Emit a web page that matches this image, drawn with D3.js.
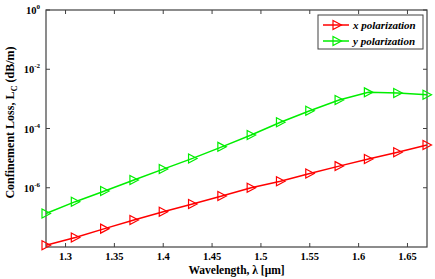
<!DOCTYPE html>
<html>
<head>
<meta charset="utf-8">
<script src="https://cdn.jsdelivr.net/npm/d3@7"></script>
<style>
  body { margin: 0; background: #fff; }
  text { font-family: "Liberation Serif", "Times New Roman", serif; font-weight: bold; }
</style>
</head>
<body>
<script>
// wavelengths (um) and losses (dB/m)
var wavelength = [1.28, 1.31, 1.34, 1.37, 1.40, 1.43, 1.46, 1.49, 1.52, 1.55, 1.58, 1.61, 1.64, 1.67];
var xPolLog = [-7.94, -7.68, -7.38, -7.09, -6.81, -6.55, -6.28, -6.00, -5.78, -5.52, -5.27, -5.03, -4.80, -4.56];
var yPolLog = [-6.87, -6.47, -6.11, -5.74, -5.37, -5.01, -4.62, -4.22, -3.79, -3.40, -3.04, -2.78, -2.80, -2.86];
var seriesNames = ["x polarization", "y polarization"];
var xTicks = [1.3, 1.35, 1.4, 1.45, 1.5, 1.55, 1.6, 1.65];
var yTickExp = [0, -2, -4, -6];

var W = 435, H = 279;
var margin = {left: 46, right: 8, top: 10, bottom: 32};
var w = W - margin.left - margin.right,
    h = H - margin.top - margin.bottom;

var series = [
    {name: seriesNames[0], color: "#ff0000", vals: xPolLog.map(function (v) { return Math.pow(10, v); })},
    {name: seriesNames[1], color: "#00ee00", vals: yPolLog.map(function (v) { return Math.pow(10, v); })}
];

var x = d3.scaleLinear().domain([1.28, 1.67]).range([0, w]);
var y = d3.scaleLog().domain([1e-8, 1]).range([h, 0]);

var svg = d3.select("body").append("svg")
    .attr("width", W)
    .attr("height", H)
    .append("g")
    .attr("transform", "translate(" + margin.left + "," + margin.top + ")");

var axisColor = "#404040";

// frame
svg.append("rect")
    .attr("width", w).attr("height", h)
    .attr("fill", "none")
    .attr("stroke", axisColor)
    .attr("stroke-width", 1.2);

// x ticks (bottom + top, inward)
var xg = svg.append("g").attr("class", "xticks");
xTicks.forEach(function (t) {
    xg.append("line").attr("x1", x(t)).attr("x2", x(t)).attr("y1", h).attr("y2", h - 4).attr("stroke", axisColor);
    xg.append("line").attr("x1", x(t)).attr("x2", x(t)).attr("y1", 0).attr("y2", 4).attr("stroke", axisColor);
    xg.append("text")
        .attr("x", x(t)).attr("y", h + 13)
        .attr("text-anchor", "middle")
        .style("font-size", "10.5px")
        .text(d3.format("")(t));
});

// y ticks
var yg = svg.append("g").attr("class", "yticks");
yTickExp.forEach(function (e) {
    var yy = y(Math.pow(10, e));
    yg.append("line").attr("x1", 0).attr("x2", 4).attr("y1", yy).attr("y2", yy).attr("stroke", axisColor);
    yg.append("line").attr("x1", w).attr("x2", w - 4).attr("y1", yy).attr("y2", yy).attr("stroke", axisColor);
    var t = yg.append("text")
        .attr("x", -6).attr("y", yy + 4)
        .attr("text-anchor", "end")
        .style("font-size", "10.5px");
    t.append("tspan").text("10");
    t.append("tspan").attr("dy", -5).style("font-size", "7px").text(e === 0 ? "0" : "-" + (-e));
});

// axis labels
svg.append("text")
    .attr("x", w / 2).attr("y", h + 27)
    .attr("text-anchor", "middle")
    .style("font-size", "11.5px")
    .text("Wavelength, \u03bb [\u03bcm]");

var yl = svg.append("text")
    .attr("transform", "translate(-32," + (h / 2 - 6) + ") rotate(-90)")
    .attr("text-anchor", "middle")
    .style("font-size", "12px");
yl.append("tspan").text("Confinement Loss, L");
yl.append("tspan").attr("dy", 3).style("font-size", "8.5px").text("C");
yl.append("tspan").attr("dy", -3).text(" (dB/m)");

// right-pointing triangle
var tri = "M-4,-4.5L4.5,0L-4,4.5Z";

var line = d3.line()
    .x(function (d, i) { return x(wavelength[i]); })
    .y(function (d) { return y(d); });

series.forEach(function (s) {
    var g = svg.append("g");
    g.append("path")
        .attr("d", line(s.vals))
        .attr("fill", "none")
        .attr("stroke", s.color)
        .attr("stroke-width", 1.5);
    g.selectAll("path.m")
        .data(s.vals)
        .enter()
        .append("path")
        .attr("class", "m")
        .attr("d", tri)
        .attr("transform", function (d, i) { return "translate(" + x(wavelength[i]) + "," + y(d) + ")"; })
        .attr("fill", "none")
        .attr("stroke", s.color)
        .attr("stroke-width", 1.2);
});

// legend
var lg = svg.append("g").attr("transform", "translate(" + (w - 109) + ",5)");
lg.append("rect")
    .attr("width", 105).attr("height", 34)
    .attr("fill", "#fff")
    .attr("stroke", axisColor);
series.forEach(function (s, i) {
    var ly = 10 + i * 16;
    lg.append("line").attr("x1", 5).attr("x2", 31).attr("y1", ly).attr("y2", ly)
        .attr("stroke", s.color).attr("stroke-width", 1.5);
    lg.append("path").attr("d", tri).attr("transform", "translate(19," + ly + ")")
        .attr("fill", "none").attr("stroke", s.color).attr("stroke-width", 1.2);
    lg.append("text")
        .attr("x", 35).attr("y", ly + 4)
        .style("font-size", "11px")
        .style("font-style", "italic")
        .text(s.name);
});
</script>
</body>
</html>
